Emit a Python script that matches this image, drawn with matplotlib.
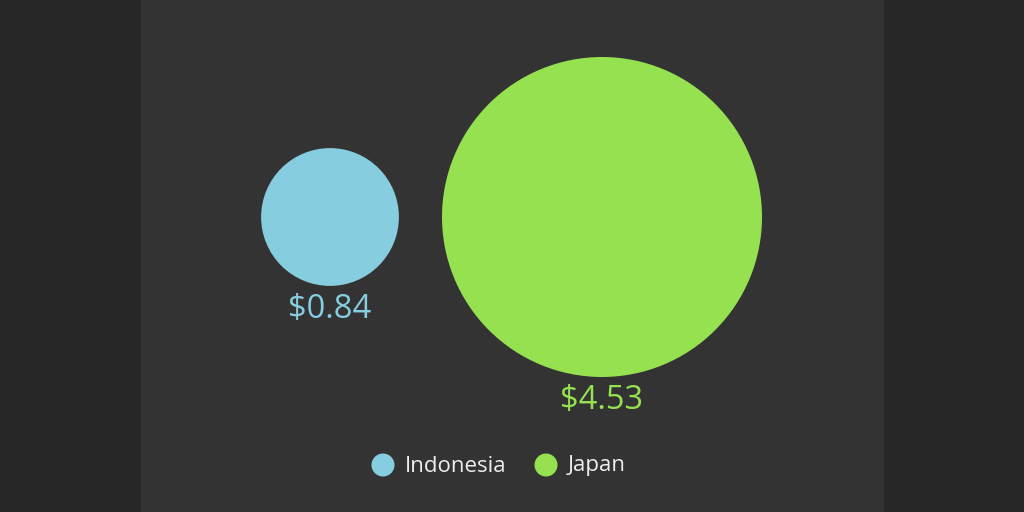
import numpy as np
import matplotlib.pyplot as plt
from matplotlib.patches import Circle, Rectangle

countries = ['Indonesia', 'Japan']
values = [0.84, 4.53]
labels = ['$0.84', '$4.53']
colors = ['#86cedf', '#96e150']

plt.rcParams['font.family'] = ['Open Sans', 'DejaVu Sans']

fig = plt.figure(figsize=(10.24, 5.12), dpi=100)
fig.patch.set_facecolor('#272727')
ax = fig.add_axes([0, 0, 1, 1])
ax.set_xlim(0, 1024)
ax.set_ylim(512, 0)
ax.set_aspect('equal')
ax.axis('off')

# middle panel
ax.add_patch(Rectangle((141, 0), 742, 512, color='#333333', zorder=0))

# bubble size ~ area proportional to value
k = 160 / np.sqrt(max(values))
cx = [330, 602]
cy = 217
for x, v, lab, c in zip(cx, values, labels, colors):
    r = k * np.sqrt(v)
    ax.add_patch(Circle((x, cy), r, color=c, lw=0, zorder=2))
    ax.text(x, cy + r + 7, lab, color=c, fontsize=23.5,
            ha='center', va='top', zorder=3)

# legend
lx = [383, 546]
for x, name, c in zip(lx, countries, colors):
    ax.add_patch(Circle((x, 465), 11.5, color=c, lw=0, zorder=2))
    ax.text(x + 22, 466, name, color='#eeeeee', fontsize=16,
            ha='left', va='center', zorder=3)

fig.savefig('out.png', dpi=100, facecolor=fig.get_facecolor())
